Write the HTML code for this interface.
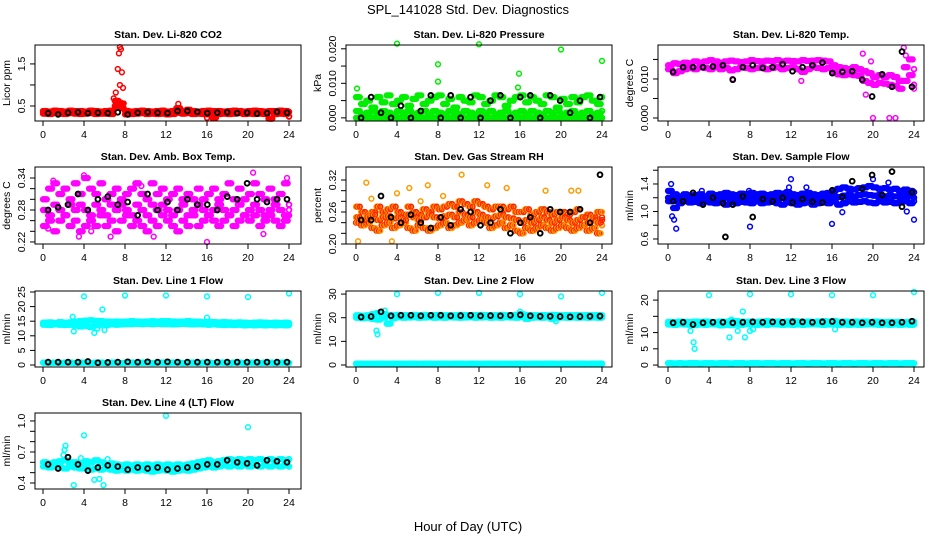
<!DOCTYPE html>
<html><head><meta charset="utf-8">
<style>
html,body{margin:0;padding:0;background:#fff;}
svg{display:block;font-family:"Liberation Sans",Arial,sans-serif;}
</style></head>
<body>
<svg id="chart" width="936" height="540" viewBox="0 0 936 540" xmlns="http://www.w3.org/2000/svg">
<text x="468" y="14" text-anchor="middle" font-size="13">SPL_141028  Std. Dev. Diagnostics</text>
<text x="468" y="531" text-anchor="middle" font-size="13">Hour of Day (UTC)</text>
</svg>
<script>
// ---- data (hour positions: band series at 0,0.5,...,24; black series at 0,1,...,24) ----
const xTickLabels = ["0","4","8","12","16","20","24"];
const co2A=[0.38,0.37,0.39,0.38,0.37,0.39,0.38,0.38,0.37,0.39,0.38,0.37,0.38,0.39,0.62,0.56,0.38,0.37,0.38,0.39,0.38,0.37,0.38,0.39,0.37,0.38,0.45,0.38,0.41,0.38,0.37,0.38,0.39,0.38,0.38,0.37,0.38,0.39,0.38,0.37,0.38,0.39,0.38,0.37,0.38,0.38,0.39,0.38,0.36];
const co2B=[0.32,0.31,0.33,0.32,0.31,0.33,0.32,0.31,0.32,0.33,0.31,0.32,0.32,0.31,0.5,0.45,0.3,0.31,0.32,0.33,0.31,0.32,0.31,0.32,0.3,0.31,0.34,0.32,0.33,0.31,0.32,0.31,0.3,0.22,0.31,0.32,0.31,0.32,0.33,0.31,0.32,0.31,0.32,0.31,0.2,0.31,0.32,0.31,0.25];
const co2K=[0.33,0.3,0.34,0.35,0.33,0.34,0.33,0.35,0.3,0.34,0.35,0.34,0.33,0.38,0.38,0.36,0.33,0.34,0.35,0.33,0.34,0.32,0.33,0.36,0.34];
const co2Out=[[7.5,1.9],[7.6,1.85],[7.4,1.75],[7.3,1.38],[7.7,1.3],[7.5,1.0],[7.8,0.93],[7.1,0.82],[6.9,0.68],[7.2,0.52],[7.6,0.58],[13.2,0.55],[16,0.22],[22.3,0.2],[24,0.25]];

const prA=[0,0,0,0,0,0,0,0,0,0,0,0,0,0,0,0,0,0,0,0,0,0,0,0,0,0,0,0,0,0,0,0,0,0,0,0,0,0,0,0,0,0,0,0,0,0,0,0,0];
const prB=[0.002,0.001,0.0015,0.002,0.001,0.002,0.0015,0.001,0.002,0.0015,0.002,0.001,0.0015,0.002,0.001,0.002,0.0015,0.001,0.002,0.0015,0.001,0.002,0.0015,0.001,0.002,0.0015,0.002,0.001,0.0015,0.002,0.001,0.0015,0.002,0.001,0.002,0.0015,0.001,0.002,0.0015,0.002,0.001,0.0015,0.002,0.001,0.0015,0.002,0.001,0.0015,0.002];
const prC=[0.006,0.004,0.005,0.003,0.006,0.0045,0.0065,0.004,0.005,0.006,0.0035,0.0055,0.0065,0.004,0.005,0.006,0.0065,0.004,0.0055,0.003,0.006,0.005,0.0045,0.0065,0.006,0.004,0.005,0.0065,0.006,0.0035,0.005,0.006,0.0065,0.0045,0.006,0.005,0.004,0.0065,0.006,0.003,0.0055,0.004,0.006,0.0045,0.006,0.0065,0.005,0.004,0.006];
const prK=[0.0,0.006,0.0015,0.0,0.0035,0.0,0.002,0.0065,0.0,0.0065,0.0,0.006,0.0,0.005,0.0065,0.0,0.006,0.0065,0.0,0.0065,0.005,0.0015,0.005,0.0,0.006];
const prOut=[[0.1,0.0085],[4,0.0215],[8,0.0155],[8,0.0105],[12,0.0213],[15.9,0.0128],[15.8,0.0088],[20,0.0198],[24,0.0165]];

const tpA=[0.0135,0.014,0.0138,0.0142,0.014,0.0145,0.0142,0.0145,0.0148,0.0145,0.0142,0.0145,0.0147,0.0145,0.0143,0.0145,0.0148,0.0146,0.0145,0.0147,0.0146,0.0148,0.0145,0.0147,0.0146,0.0145,0.0148,0.0146,0.0147,0.0148,0.0147,0.0145,0.0135,0.013,0.0128,0.0125,0.013,0.0125,0.012,0.0115,0.0105,0.011,0.0105,0.011,0.0105,0.0095,0.013,0.015,0.0125];
const tpB=[0.0125,0.0115,0.012,0.0125,0.0128,0.0125,0.013,0.0128,0.0125,0.013,0.0125,0.0128,0.0122,0.0125,0.013,0.0128,0.0125,0.0128,0.013,0.0125,0.0128,0.013,0.0125,0.0128,0.013,0.0125,0.0118,0.0125,0.013,0.0128,0.0125,0.0128,0.0118,0.0112,0.011,0.0112,0.011,0.0108,0.0095,0.009,0.0085,0.009,0.0088,0.0085,0.0082,0.0075,0.0095,0.011,0.0085];
const tpK=[0.0118,0.013,0.013,0.013,0.0132,0.0135,0.0098,0.013,0.0135,0.0128,0.013,0.0138,0.012,0.013,0.0135,0.0142,0.0115,0.0118,0.012,0.0098,0.0055,0.0112,0.008,0.017,0.008];
const tpOut=[[19,0.0165],[19.8,0.0145],[20,0],[21.6,0],[22.2,0],[23,0.018],[23.2,0.016],[24,0.0075],[19.3,0.006],[13,0.0095],[6.3,0.01]];

const abA=[0.3,0.32,0.33,0.31,0.32,0.3,0.33,0.31,0.34,0.32,0.31,0.33,0.3,0.31,0.32,0.3,0.31,0.32,0.33,0.31,0.3,0.33,0.31,0.32,0.3,0.31,0.32,0.3,0.31,0.3,0.32,0.3,0.31,0.32,0.3,0.31,0.33,0.3,0.32,0.3,0.31,0.33,0.31,0.3,0.32,0.3,0.31,0.33,0.29];
const abB=[0.28,0.27,0.29,0.28,0.27,0.29,0.28,0.29,0.28,0.27,0.29,0.28,0.27,0.29,0.28,0.29,0.28,0.27,0.29,0.28,0.27,0.29,0.28,0.29,0.28,0.27,0.28,0.29,0.27,0.28,0.29,0.28,0.27,0.28,0.29,0.28,0.27,0.28,0.29,0.27,0.28,0.29,0.28,0.27,0.28,0.29,0.28,0.27,0.28];
const abC=[0.25,0.26,0.24,0.26,0.27,0.25,0.26,0.24,0.25,0.26,0.25,0.27,0.25,0.26,0.24,0.26,0.27,0.25,0.26,0.25,0.24,0.26,0.25,0.27,0.26,0.25,0.24,0.26,0.25,0.27,0.25,0.26,0.27,0.26,0.25,0.26,0.27,0.25,0.26,0.27,0.26,0.27,0.25,0.26,0.27,0.26,0.25,0.26,0.27];
const abK=[0.28,0.285,0.29,0.31,0.28,0.3,0.305,0.29,0.295,0.27,0.31,0.28,0.295,0.28,0.3,0.29,0.29,0.28,0.305,0.3,0.33,0.3,0.295,0.3,0.3];
const abOut=[[3.5,0.23],[4,0.345],[4.7,0.24],[6.6,0.23],[9.6,0.325],[10.8,0.23],[21.5,0.235],[16,0.22],[20.5,0.35],[1,0.335],[23.8,0.34],[0.5,0.245]];

const rhA=[0.27,0.26,0.255,0.26,0.27,0.26,0.265,0.27,0.26,0.255,0.27,0.26,0.255,0.265,0.26,0.27,0.265,0.27,0.275,0.27,0.28,0.275,0.27,0.28,0.275,0.27,0.265,0.27,0.27,0.265,0.27,0.26,0.26,0.265,0.255,0.26,0.265,0.26,0.255,0.26,0.26,0.255,0.26,0.265,0.25,0.255,0.25,0.26,0.25];
const rhB=[0.24,0.235,0.24,0.23,0.225,0.235,0.24,0.23,0.235,0.24,0.23,0.225,0.235,0.23,0.225,0.23,0.235,0.24,0.23,0.235,0.24,0.245,0.235,0.24,0.245,0.24,0.23,0.235,0.24,0.23,0.235,0.225,0.22,0.23,0.225,0.23,0.235,0.23,0.225,0.23,0.235,0.23,0.225,0.23,0.235,0.225,0.23,0.22,0.235];
const rhC=[0.25,0.245,0.25,0.255,0.245,0.25,0.252,0.248,0.25,0.245,0.255,0.25,0.245,0.25,0.255,0.25,0.248,0.252,0.255,0.25,0.26,0.255,0.25,0.26,0.255,0.25,0.248,0.252,0.255,0.25,0.248,0.245,0.24,0.245,0.24,0.245,0.25,0.245,0.24,0.245,0.25,0.245,0.24,0.245,0.25,0.24,0.245,0.24,0.245];
const rhK=[0.245,0.245,0.29,0.25,0.24,0.255,0.24,0.23,0.25,0.235,0.265,0.26,0.235,0.24,0.265,0.22,0.24,0.25,0.22,0.265,0.26,0.26,0.265,0.24,0.33];
const rhOut=[[0.2,0.205],[1,0.315],[1.5,0.285],[3.5,0.205],[4,0.295],[5.2,0.305],[6.3,0.28],[7,0.31],[8.5,0.29],[10.3,0.33],[12.8,0.31],[14.7,0.305],[18.5,0.3],[21,0.3],[21.7,0.3],[24,0.26]];

const sfA=[1.3,1.25,1.22,1.25,1.23,1.24,1.25,1.22,1.26,1.24,1.25,1.27,1.25,1.24,1.26,1.25,1.27,1.25,1.26,1.24,1.25,1.27,1.26,1.28,1.25,1.24,1.26,1.27,1.25,1.24,1.26,1.27,1.3,1.33,1.35,1.33,1.32,1.34,1.35,1.37,1.35,1.33,1.34,1.32,1.33,1.3,1.32,1.3,1.28];
const sfB=[1.15,1.05,1.12,1.15,1.13,1.14,1.12,1.15,1.13,1.12,1.14,1.1,1.13,1.12,1.14,1.13,1.12,1.15,1.12,1.13,1.14,1.12,1.1,1.13,1.12,1.1,1.12,1.13,1.1,1.12,1.13,1.12,1.15,1.1,1.12,1.15,1.13,1.14,1.15,1.13,1.12,1.15,1.13,1.14,1.12,1.13,1.15,1.12,1.15];
const sfC=[1.2,1.18,1.2,1.19,1.2,1.18,1.2,1.19,1.2,1.2,1.19,1.2,1.18,1.2,1.19,1.2,1.2,1.19,1.2,1.18,1.2,1.19,1.2,1.2,1.19,1.18,1.2,1.19,1.18,1.2,1.19,1.2,1.22,1.21,1.23,1.24,1.22,1.24,1.25,1.24,1.23,1.24,1.22,1.23,1.22,1.21,1.23,1.22,1.2];
const sfK=[1.15,1.15,1.27,1.1,1.2,1.12,1.1,1.22,0.92,1.18,1.15,1.2,1.13,1.18,1.14,1.13,1.31,1.21,1.44,1.33,1.53,1.24,1.58,1.07,1.28];
const sfOut=[[0.3,1.4],[0.4,0.93],[0.6,0.88],[0.8,0.75],[3.3,1.3],[8,0.78],[7.9,1.3],[12,1.47],[11.8,1.35],[13.5,1.35],[16,0.82],[17,0.99],[21.5,1.42],[23.3,1.0],[24,0.88],[20,1.47]];

const l1A=[14.5,14.6,14.4,14.7,14.5,14.6,14.8,15,15.2,15.3,15.1,15,14.9,14.8,14.9,14.8,14.9,15,14.9,14.8,14.9,15,14.9,15,15,14.9,14.8,14.9,15,14.9,14.8,14.7,14.8,14.7,14.6,14.7,14.6,14.5,14.6,14.5,14.4,14.5,14.6,14.5,14.4,14.5,14.4,14.5,14.4];
const l1B=[13.8,13.7,13.9,13.8,13.7,13.8,13.5,13.2,13.4,13,13.6,13.8,13.7,13.9,13.8,13.9,14,14,14.1,14,14.1,14,14.1,14,14,13.9,14,14.1,14,13.9,14,13.9,13.8,13.9,13.8,13.7,13.8,13.7,13.8,13.6,13.7,13.6,13.7,13.6,13.7,13.6,13.7,13.6,13.7];
const l1L=[0.8,0.7,0.8,0.7,0.8,0.8,0.7,0.8,0.8,0.7,0.8,0.8,0.7,0.8,0.8,0.7,0.8,0.8,0.7,0.8,0.8,0.7,0.8,0.8,0.7,0.8,0.8,0.7,0.8,0.8,0.7,0.8,0.8,0.7,0.8,0.8,0.7,0.8,0.8,0.7,0.8,0.8,0.7,0.8,0.8,0.7,0.8,0.8,0.7];
const l1K=[1,1,1,1,1.2,0.8,0.9,1,1.1,1,1.1,1,1.1,1,1,1,1,1,1,1,1,1,1,1,1];
const l1Out=[[2.9,16.5],[3,11.5],[4,23.5],[5,11],[5.3,12.5],[5.8,19],[6,12],[8,23.8],[12,23.8],[16,23.5],[16,16.2],[20,23.3],[24,24.5]];

const l2A=[21,20.8,21,21.5,22,21.5,21.2,21,21.2,21.1,21,21.2,21.1,21.2,21,21.1,21.2,21,21.1,21,21.2,21.1,21,21.1,21.2,21.1,21,21.1,21.2,21,21.1,21.2,21.5,21.2,21.1,21,21.1,21,21.2,21.1,21,21.1,21,21.1,21,21.1,21,21.1,21];
const l2B=[20,19.8,20,19.5,19.2,20,17.5,19.8,20.2,20,20.1,20.2,20,20.1,20.2,20,20.1,20,20.2,20.1,20,20.1,20.2,20,20.1,20.2,20,20.1,20,20.2,20.1,20,20.3,19.5,20,20.1,20,20.1,19.5,20,20.1,20,20.1,20,20.1,20,20.1,20,20.1];
const l2L=[0.6,0.5,0.6,0.5,0.6,0.6,0.5,0.6,0.6,0.5,0.6,0.6,0.5,0.6,0.6,0.5,0.6,0.6,0.5,0.6,0.6,0.5,0.6,0.6,0.5,0.6,0.6,0.5,0.6,0.6,0.5,0.6,0.6,0.5,0.6,0.6,0.5,0.6,0.6,0.5,0.6,0.6,0.5,0.6,0.6,0.5,0.6,0.6,0.5];
const l2K=[20.3,20.5,22.5,20.8,21,21,20.8,21,21,20.8,20.9,21,20.8,20.9,20.8,21,21.2,20.8,20.6,20.6,20.5,20.4,20.5,20.6,20.7];
const l2Out=[[2,14.5],[2.1,13],[2.8,23],[3,17.5],[16,22.5],[19.5,18.5],[4,30],[8,30.5],[12,30.5],[16,30],[20,29],[24,30.5]];

const l3A=[13.3,13.2,13.4,13.3,13.2,13.4,13.3,13.4,13.3,13.2,13.4,13.3,13.6,13.5,13.4,13.3,13.4,13.3,13.4,13.5,13.3,13.4,13.3,13.4,13.5,13.4,13.3,13.4,13.3,13.4,13.5,13.4,13.6,13.3,13.4,13.3,13.4,13.3,13.4,13.3,13.4,13.3,13.2,13.3,13.2,13.3,13.2,13.3,13.4];
const l3B=[12.5,12.4,12.6,12.5,12.4,12.3,12.5,12.4,12.6,12.5,12.2,12.4,12.3,12.5,12.4,12.6,12.5,12.4,12.5,12.4,12.6,12.5,12.4,12.5,12.4,12.5,12.4,12.5,12.6,12.5,12.4,12.5,12.6,12.4,12.5,12.4,12.5,12.4,12.5,12.6,12.5,12.4,12.5,12.4,12.5,12.4,12.5,12.4,12.5];
const l3L=[0.6,0.5,0.6,0.5,0.6,0.6,0.5,0.6,0.6,0.5,0.6,0.6,0.5,0.6,0.6,0.5,0.6,0.6,0.5,0.6,0.6,0.5,0.6,0.6,0.5,0.6,0.6,0.5,0.6,0.6,0.5,0.6,0.6,0.5,0.6,0.6,0.5,0.6,0.6,0.5,0.6,0.6,0.5,0.6,0.6,0.5,0.6,0.6,0.5];
const l3K=[13,13.2,12.5,13,13.2,13.2,13,13.2,13.3,13.2,13.3,13.2,13.3,13.3,13.2,13.3,13.4,13.2,13.2,13,13.2,13,13,13.2,13.5];
const l3Out=[[4,21.5],[8,21.8],[12,21.8],[16,21.5],[20,21.5],[24,22.5],[2.5,7],[2.6,5],[6,8.5],[7.5,8.5],[6.2,14],[7.3,16.5],[6.8,10.5],[8,10.5],[8.3,11],[16.3,11],[2.2,10.5]];

const l4A=[0.6,0.59,0.6,0.61,0.62,0.6,0.6,0.59,0.61,0.6,0.62,0.6,0.58,0.59,0.58,0.57,0.58,0.57,0.58,0.57,0.58,0.57,0.58,0.57,0.58,0.57,0.58,0.57,0.58,0.59,0.6,0.61,0.62,0.6,0.61,0.62,0.63,0.62,0.63,0.62,0.63,0.62,0.63,0.62,0.63,0.62,0.63,0.62,0.63];
const l4B=[0.56,0.55,0.56,0.55,0.54,0.56,0.55,0.54,0.55,0.53,0.54,0.53,0.54,0.53,0.52,0.53,0.52,0.53,0.52,0.53,0.52,0.51,0.52,0.53,0.52,0.51,0.52,0.53,0.52,0.53,0.54,0.55,0.56,0.55,0.56,0.57,0.56,0.57,0.56,0.57,0.56,0.57,0.56,0.57,0.56,0.57,0.56,0.57,0.56];
const l4K=[0.58,0.54,0.65,0.58,0.52,0.55,0.57,0.56,0.53,0.55,0.54,0.55,0.53,0.54,0.55,0.56,0.58,0.58,0.62,0.6,0.59,0.57,0.62,0.61,0.6];
const l4Out=[[2,0.67],[2.1,0.72],[2.2,0.76],[3.7,0.64],[3,0.38],[4,0.86],[5,0.43],[5.5,0.44],[5.9,0.38],[12,1.05],[20,0.94],[5.4,0.62],[6.3,0.63]];

// ---- layout ----
const cols=[{l:35,r:301,x0:43,x24:289},{l:346,r:612,x0:356,x24:602},{l:658,r:924,x0:668,x24:914}];
const rows=[{t:45,b:121},{t:167,b:244},{t:291,b:367},{t:413,b:489}];
const panels=[
 {name:"co2",title:"Stan. Dev. Li-820 CO2",ylab:"Licor ppm",c:0,r:0,ymin:0.143,ymax:1.95,ticks:[0.5,1.0,1.5],labels:["0.5","","1.5"],col:"#ff0000",bands:[co2A,co2B],out:co2Out,black:co2K},
 {name:"pressure",title:"Stan. Dev. Li-820 Pressure",ylab:"kPa",c:1,r:0,ymin:-0.00091,ymax:0.0211,ticks:[0,0.005,0.01,0.015,0.02],labels:["0.000","","0.010","","0.020"],col:"#00ee00",bands:[prA,prB,prC],out:prOut,black:prK},
 {name:"temp",title:"Stan. Dev. Li-820 Temp.",ylab:"degrees C",c:2,r:0,ymin:-0.00077,ymax:0.0187,ticks:[0,0.005,0.01,0.015],labels:["0.000","","0.010",""],col:"#ff00ff",bands:[tpA,tpB],out:tpOut,black:tpK},
 {name:"amb-temp",title:"Stan. Dev. Amb. Box Temp.",ylab:"degrees C",c:0,r:1,ymin:0.2162,ymax:0.3606,ticks:[0.22,0.24,0.26,0.28,0.30,0.32,0.34],labels:["0.22","","","0.28","","","0.34"],col:"#ff00ff",bands:[abA,abB,abC],out:abOut,black:abK},
 {name:"rh",title:"Stan. Dev. Gas Stream RH",ylab:"percent",c:1,r:1,ymin:0.2,ymax:0.3444,ticks:[0.2,0.22,0.24,0.26,0.28,0.30,0.32],labels:["0.20","","","0.26","","","0.32"],col:"#ff9a00",col2:"#ff2000",bands:[rhA,rhB,rhC],out:rhOut,black:rhK},
 {name:"sample-flow",title:"Stan. Dev. Sample Flow",ylab:"ml/min",c:2,r:1,ymin:0.527,ymax:1.647,ticks:[0.6,0.8,1.0,1.2,1.4,1.6],labels:["0.6","","1.0","","1.4",""],col:"#0000ff",bands:[sfA,sfB,sfC],out:sfOut,black:sfK,blackOut:[[5.6,0.63]]},
 {name:"line1",title:"Stan. Dev. Line 1 Flow",ylab:"ml/min",c:0,r:2,ymin:-0.68,ymax:25.34,ticks:[0,5,10,15,20,25],labels:["0","5","10","15","20","25"],col:"#00ffff",bands:[l1A,l1B,l1L],out:l1Out,black:l1K},
 {name:"line2",title:"Stan. Dev. Line 2 Flow",ylab:"ml/min",c:1,r:2,ymin:-0.85,ymax:31.3,ticks:[0,10,20,30],labels:["0","10","20","30"],col:"#00ffff",bands:[l2A,l2B,l2L],out:l2Out,black:l2K},
 {name:"line3",title:"Stan. Dev. Line 3 Flow",ylab:"ml/min",c:2,r:2,ymin:-0.6,ymax:22.8,ticks:[0,5,10,15,20],labels:["0","5","10","","20"],col:"#00ffff",bands:[l3A,l3B,l3L],out:l3Out,black:l3K},
 {name:"line4",title:"Stan. Dev. Line 4 (LT) Flow",ylab:"ml/min",c:0,r:3,ymin:0.342,ymax:1.077,ticks:[0.4,0.5,0.6,0.7,0.8,0.9,1.0],labels:["0.4","","","0.7","","","1.0"],col:"#00ffff",bands:[l4A,l4B],out:l4Out,black:l4K}
];

const svg=document.getElementById('chart');
const NS="http://www.w3.org/2000/svg";
function mk(tag,attrs,parent){const e=document.createElementNS(NS,tag);for(const k in attrs)e.setAttribute(k,attrs[k]);parent.appendChild(e);return e;}
function dot(g,x,y,color,w){
 const c=mk('circle',{cx:x.toFixed(1),cy:y.toFixed(1),r:2.4,fill:'none',stroke:color,'stroke-width':w||1.5},g);
 
 
}
const subOffsets=[0,0.125,0.25,0.375];
panels.forEach(p=>{
 const C=cols[p.c],R=rows[p.r];
 const xs=h=>C.x0+(C.x24-C.x0)*h/24;
 const ys=v=>R.b-(v-p.ymin)/(p.ymax-p.ymin)*(R.b-R.t);
 const g=mk('g',{},svg);
 
 
 const t=mk('text',{x:(C.l+C.r)/2,y:R.t-7,'text-anchor':'middle','font-size':10.5,'font-weight':'bold'},g);
 t.textContent=p.title;
 
 
 const pg=mk('g',{},g);
 
 
 p.bands.forEach((arr,bi)=>{
  arr.forEach((v,i)=>{
   const h=i*24/(arr.length-1);
   subOffsets.forEach((o,k)=>{
    const hh=Math.min(24,h+o);
    const col=p.col2?((k+bi)%2?p.col2:p.col):p.col;
    dot(pg,xs(hh),ys(v),col);
   });
  });
 });
 p.out.forEach(o=>dot(pg,xs(o[0]),ys(o[1]),p.col));
 const kg=mk('g',{},g);
 
 
 p.black.forEach((v,i)=>dot(kg,xs(0.5+i*23.3/24),ys(v),'#000',1.9));
 (p.blackOut||[]).forEach(o=>dot(kg,xs(o[0]),ys(o[1]),'#000',1.9));
 const b=mk('rect',{x:C.l,y:R.t,width:C.r-C.l,height:R.b-R.t,fill:'none',stroke:'#000','stroke-width':1},g);
 
 
 const xa=mk('g',{stroke:'#000','stroke-width':1},g);
 
 
 mk('line',{x1:xs(0),x2:xs(24),y1:R.b,y2:R.b},xa);
 xTickLabels.forEach(lab=>{
  const h=+lab;
  mk('line',{x1:xs(h),x2:xs(h),y1:R.b,y2:R.b+5},xa);
  const tx=mk('text',{x:xs(h),y:R.b+17,'text-anchor':'middle','font-size':10.5,stroke:'none',fill:'#000'},xa);
  tx.textContent=lab;
  
  
 });
 const ya=mk('g',{stroke:'#000','stroke-width':1},g);
 
 
 mk('line',{x1:C.l,x2:C.l,y1:ys(p.ticks[0]),y2:ys(p.ticks[p.ticks.length-1])},ya);
 p.ticks.forEach((v,i)=>{
  const y=ys(v);
  mk('line',{x1:C.l-5,x2:C.l,y1:y,y2:y},ya);
  if(p.labels[i]){
   const tx=mk('text',{x:C.l-10,y:y,'text-anchor':'middle','font-size':10.5,stroke:'none',fill:'#000',transform:`rotate(-90 ${C.l-10} ${y})`},ya);
   tx.textContent=p.labels[i];
   
   
  }
 });
 const yl=C.l-25, ym=(R.t+R.b)/2;
 const yt=mk('text',{x:yl,y:ym,'text-anchor':'middle','font-size':10.5,transform:`rotate(-90 ${yl} ${ym})`},g);
 yt.textContent=p.ylab;
 
 
});
</script>
</body></html>
